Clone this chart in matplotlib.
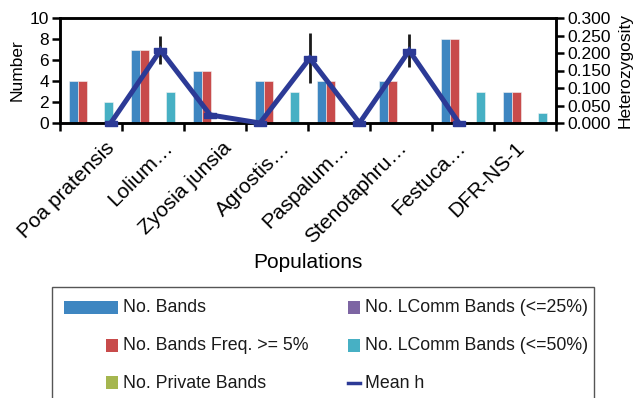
import numpy as np
import matplotlib
matplotlib.use("Agg")
import matplotlib.pyplot as plt
from matplotlib.patches import Rectangle
from matplotlib.lines import Line2D
from matplotlib.path import Path

plt.rcParams['font.family'] = ['Liberation Sans', 'DejaVu Sans']

# data
populations = ['Poa pratensis', 'Lolium\u2026', 'Zyosia junsia', 'Agrostis\u2026',
               'Paspalum\u2026', 'Stenotaphru\u2026', 'Festuca\u2026', 'DFR-NS-1']
no_bands = [4, 7, 5, 4, 4, 4, 8, 3]
bands_freq5 = [4, 7, 5, 4, 4, 4, 8, 3]
private_bands = [0, 0, 0, 0, 0, 0, 0, 0]
lcomm_25 = [0, 0, 0, 0, 0, 0, 0, 0]
lcomm_50 = [2, 3, 0, 3, 0, 0, 3, 1]
mean_h = [0.0, 0.208, 0.023, 0.0, 0.185, 0.0, 0.207, 0.0]
mean_h_err = [0.0, 0.040, 0.0, 0.0, 0.072, 0.0, 0.047, 0.0]

series = [
    ('No. Bands', no_bands, '#3e86c1'),
    ('No. Bands Freq. >= 5%', bands_freq5, '#c84b4b'),
    ('No. Private Bands', private_bands, '#a5b64f'),
    ('No. LComm Bands (<=25%)', lcomm_25, '#7d65a3'),
    ('No. LComm Bands (<=50%)', lcomm_50, '#47b0c4'),
]
navy = '#2c3a96'

W, H = 638, 398
fig = plt.figure(figsize=(W / 100, H / 100), dpi=100)
ax = fig.add_axes([60 / W, 1 - 123 / H, 496 / W, 105 / H])

x = np.arange(len(populations))
bw = 0.14
for k, (name, vals, col) in enumerate(series):
    ax.bar(x + (k - 2) * bw, vals, bw, color=col, edgecolor='#f4f4f4',
           linewidth=0.4, zorder=2)

ax.set_xlim(-0.5, len(populations) - 0.5)
ax.set_ylim(0, 10)
ax.set_yticks(range(0, 11, 2))
ax.set_xticks(np.arange(-0.5, len(populations)), [])
# the category labels in the original run on a slightly tighter spacing
ax.set_xticks(0.226 + 0.9435 * x, populations, minor=True, rotation=45,
              ha='right', rotation_mode='anchor', fontsize=15)
ax.tick_params(axis='x', which='minor', length=0, pad=11)
ax.tick_params(axis='x', which='major', length=6, width=1.8, direction='out')
ax.tick_params(axis='y', length=6, width=1.8, labelsize=12.5, pad=2)
for sp in ax.spines.values():
    sp.set_linewidth(1.8)

ax.set_ylabel('Number', fontsize=12.5)
ax.yaxis.set_label_coords(-0.087, 0.5)
ax.yaxis.label.set_va('center')
ax.set_xlabel('Populations', fontsize=15)
ax.xaxis.set_label_coords(0.5, -1.324)
ax.xaxis.label.set_va('center')

ax2 = ax.twinx()
ax2.set_ylim(0, 0.3)
ax2.set_yticks(np.arange(0, 0.301, 0.05))
ax2.set_yticklabels(['%.3f' % v for v in np.arange(0, 0.301, 0.05)])
ax2.tick_params(axis='y', length=6, width=1.8, labelsize=12.5, pad=2)
for sp in ax2.spines.values():
    sp.set_linewidth(1.8)
ax2.set_ylabel('Heterozygosity', fontsize=12.5, rotation=90)
ax2.yaxis.set_label_coords(1.14, 0.5)
ax2.yaxis.label.set_va('center')

# the line sits on its own category scale, as in the original
ax3 = ax2.twiny()
ax3.set_xlim(-1.02, 8.95)
ax3.set_xticks([])
for sp in ax3.spines.values():
    sp.set_visible(False)
xh = np.arange(len(mean_h))
ax3.errorbar(xh, mean_h, yerr=mean_h_err, fmt='none', ecolor='#1a1a1a',
             elinewidth=2, capsize=0, zorder=3)
dash = Path([(-1, -0.45), (1, -0.45), (1, 0.45), (-1, 0.45), (-1, -0.45)])
ax3.plot(xh, mean_h, color=navy, lw=3.6, marker=dash, markersize=8,
         solid_joinstyle='miter', zorder=4, clip_on=False)


def fx(px):
    return px / W


def fy(py):
    return 1 - py / H


fig.add_artist(Rectangle((fx(52), fy(410)), fx(594) - fx(52), fy(287) - fy(410),
                         transform=fig.transFigure, facecolor='white',
                         edgecolor='#555555', lw=1))
# legend: (patch x0, patch x1, center y, text x, label, color, kind)
legend_rows = [
    (64, 118, 307, 123, series[0][0], series[0][2], 'box'),
    (106, 118, 345, 123, series[1][0], series[1][2], 'box'),
    (106, 118, 382, 123, series[2][0], series[2][2], 'box'),
    (348, 360, 307, 365, series[3][0], series[3][2], 'box'),
    (348, 360, 345, 365, series[4][0], series[4][2], 'box'),
    (348, 360, 383, 365, 'Mean h', navy, 'line'),
]
for x0, x1, cy, tx, label, col, kind in legend_rows:
    if kind == 'box':
        fig.add_artist(Rectangle((fx(x0), fy(cy + 6.5)), fx(x1) - fx(x0), 13 / H,
                                 transform=fig.transFigure, facecolor=col,
                                 edgecolor='none'))
    else:
        fig.add_artist(Line2D([fx(x0), fx(x1)], [fy(cy), fy(cy)], color=col,
                              lw=2.5, transform=fig.transFigure))
    fig.text(fx(tx), fy(cy + 1), label, fontsize=12.8, va='center', ha='left',
             color='#1a1a1a')

fig.savefig('out.png', dpi=100)
